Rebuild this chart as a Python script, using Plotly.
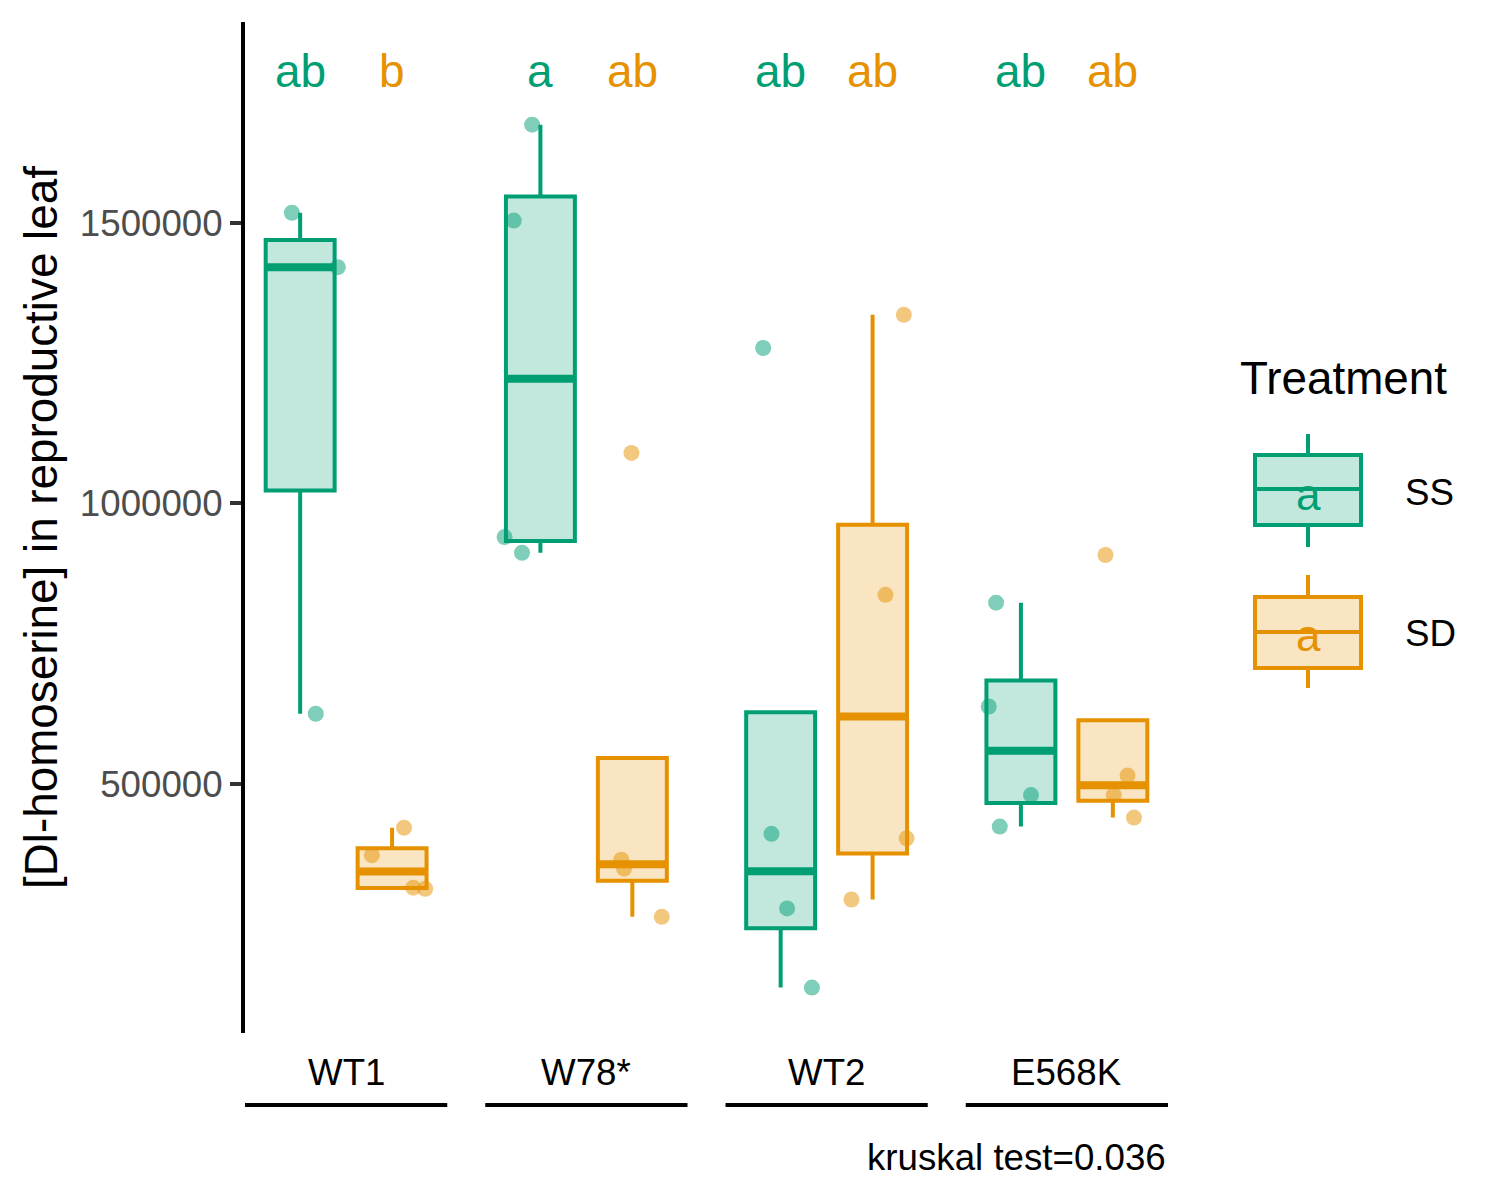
import numpy as np
import plotly.graph_objects as go
from plotly.subplots import make_subplots

# ---------------- data ----------------
genotypes = ["WT1", "W78*", "WT2", "E568K"]
treatments = ["SS", "SD"]

wt1_ss = [1518000, 1421000, 625000]
wt1_sd = [422000, 373000, 315000, 313000]
w78_ss = [1675000, 1504000, 940000, 912000]
w78_sd = [1090000, 365000, 349000, 263000]
wt2_ss = [1277000, 411000, 278000, 137000]
wt2_sd = [1336000, 837000, 403000, 294000]
e568k_ss = [823000, 638000, 480000, 424000]
e568k_sd = [908000, 515000, 480000, 440000]

letters_ss = ["ab", "a", "ab", "ab"]
letters_sd = ["b", "ab", "ab", "ab"]

kruskal_label = "kruskal test=0.036"
y_title = "[Dl-homoserine] in reproductive leaf"
y_ticks = [500000, 1000000, 1500000]

# jitter offsets (x, in category units) as seen in the picture
jit_wt1_ss = [-0.09, 0.41, 0.17]
jit_wt1_sd = [0.13, -0.22, 0.23, 0.36]
jit_w78_ss = [-0.09, -0.29, -0.39, -0.20]
jit_w78_sd = [-0.01, -0.12, -0.09, 0.32]
jit_wt2_ss = [-0.19, -0.10, 0.07, 0.34]
jit_wt2_sd = [0.34, 0.14, 0.37, -0.23]
jit_e568k_ss = [-0.27, -0.35, 0.11, -0.23]
jit_e568k_sd = [-0.08, 0.16, 0.01, 0.23]

ss_sets = [wt1_ss, w78_ss, wt2_ss, e568k_ss]
sd_sets = [wt1_sd, w78_sd, wt2_sd, e568k_sd]
ss_jit = [jit_wt1_ss, jit_w78_ss, jit_wt2_ss, jit_e568k_ss]
sd_jit = [jit_wt1_sd, jit_w78_sd, jit_wt2_sd, jit_e568k_sd]

# ---------------- style ----------------
GREEN = "#009E73"
ORANGE = "#E69100"
FILL = {GREEN: "rgba(0,158,115,0.24)", ORANGE: "rgba(230,145,0,0.24)"}
PT = {GREEN: "rgba(0,158,115,0.5)", ORANGE: "rgba(230,145,0,0.5)"}
FONT = "Liberation Sans, Arial, sans-serif"
OFF = 8  # page body margin
W, H = 1500 - OFF, 1200 - OFF
L, T = 245 - OFF, 22 - OFF
R = W - (1168 - OFF)
B = H - (1033 - OFF)
PW = W - L - R
PH = H - T - B
YRANGE = [56000, 1858000]
LETTER_Y = 1770000
BOXW = 0.75
LW = 4
MLW = 8


def px_x(x):
    return (x - OFF - L) / PW


def px_y(y):
    return (H - B - (y - OFF)) / PH


def box_stats(v):
    v = np.sort(np.array(v, dtype=float))
    q1, med, q3 = np.percentile(v, [25, 50, 75])
    iqr = q3 - q1
    upper = v[v <= q3 + 1.5 * iqr].max()
    lower = v[v >= q1 - 1.5 * iqr].min()
    return q1, med, q3, min(lower, q1), max(upper, q3)


fig = make_subplots(rows=1, cols=4, shared_yaxes=True,
                    horizontal_spacing=38 / PW)

for i, g in enumerate(genotypes):
    col = i + 1
    for pos, (vals, jit, color, lab) in enumerate(
            [(ss_sets[i], ss_jit[i], GREEN, letters_ss[i]),
             (sd_sets[i], sd_jit[i], ORANGE, letters_sd[i])], start=1):
        q1, med, q3, lo, hi = box_stats(vals)
        fig.add_trace(go.Box(
            x=[pos], q1=[q1], median=[med], q3=[q3],
            lowerfence=[lo], upperfence=[hi],
            width=BOXW, whiskerwidth=0,
            line=dict(color=color, width=LW),
            fillcolor=FILL[color], boxpoints=False,
            showlegend=False, hoverinfo="skip"), row=1, col=col)
        # thick median
        fig.add_trace(go.Scatter(
            x=[pos - BOXW / 2, pos + BOXW / 2], y=[med, med], mode="lines",
            line=dict(color=color, width=MLW), showlegend=False,
            hoverinfo="skip"), row=1, col=col)
        # jittered points
        fig.add_trace(go.Scatter(
            x=[pos + j for j in jit], y=vals, mode="markers",
            marker=dict(color=PT[color], size=16, line=dict(width=0)),
            showlegend=False, hoverinfo="skip"), row=1, col=col)
        fig.add_annotation(x=pos, y=LETTER_Y, text=lab, showarrow=False,
                           font=dict(family=FONT, size=46, color=color),
                           xref=f"x{'' if col == 1 else col}",
                           yref="y", xanchor="center", yanchor="middle")
    xr = f"x{'' if col == 1 else col} domain"
    fig.add_annotation(x=0.5, y=px_y(1072), xref=xr, yref="paper",
                       text=g, showarrow=False, xanchor="center",
                       yanchor="middle",
                       font=dict(family=FONT, size=36.7, color="black"))
    fig.add_shape(type="line", xref=xr, yref="paper", x0=0, x1=1,
                  y0=px_y(1105), y1=px_y(1105),
                  line=dict(color="black", width=4))

for col in range(1, 5):
    fig.update_xaxes(range=[0.4, 2.6], showline=False, showticklabels=False,
                     ticks="", showgrid=False, zeroline=False, row=1, col=col)
    fig.update_yaxes(range=YRANGE, showgrid=False, zeroline=False,
                     row=1, col=col)

fig.update_yaxes(showline=True, linecolor="black", linewidth=4,
                 ticks="outside", ticklen=11, tickwidth=4, tickcolor="#333333",
                 tickvals=y_ticks, tickformat="d",
                 tickfont=dict(family=FONT, size=36.7, color="#4D4D4D"),
                 title=dict(text=y_title, standoff=9,
                            font=dict(family=FONT, size=45.8, color="black")),
                 row=1, col=1)

# kruskal caption
fig.add_annotation(x=1, y=px_y(1157), xref="paper", yref="paper",
                   text=kruskal_label, showarrow=False, xanchor="right",
                   yanchor="middle",
                   font=dict(family=FONT, size=36.7, color="black"))

# ---------------- custom legend ----------------
fig.add_annotation(x=px_x(1238), y=px_y(378), xref="paper", yref="paper",
                   text="Treatment", showarrow=False, xanchor="left",
                   yanchor="middle",
                   font=dict(family=FONT, size=45.8, color="black"))
legend_keys = [(treatments[0], GREEN, 434, 455, 489, 525, 547, 492),
               (treatments[1], ORANGE, 575, 597, 632, 668, 688, 633)]
for name, color, wt, bt, md, bb, wb, ty in legend_keys:
    x0, x1, xc = px_x(1255), px_x(1361), px_x(1308)
    fig.add_shape(type="rect", xref="paper", yref="paper", x0=x0, x1=x1,
                  y0=px_y(bb), y1=px_y(bt), fillcolor=FILL[color],
                  line=dict(color=color, width=LW))
    for ya, yb in [(wt, bt), (bb, wb)]:
        fig.add_shape(type="line", xref="paper", yref="paper", x0=xc, x1=xc,
                      y0=px_y(yb), y1=px_y(ya),
                      line=dict(color=color, width=LW))
    fig.add_shape(type="line", xref="paper", yref="paper", x0=x0, x1=x1,
                  y0=px_y(md), y1=px_y(md), line=dict(color=color, width=LW))
    fig.add_annotation(x=xc, y=px_y(ty + 2), xref="paper", yref="paper",
                       text="a", showarrow=False, xanchor="center",
                       yanchor="middle",
                       font=dict(family=FONT, size=44, color=color))
    fig.add_annotation(x=px_x(1403), y=px_y(ty), xref="paper", yref="paper",
                       text=name, showarrow=False, xanchor="left",
                       yanchor="middle",
                       font=dict(family=FONT, size=36.7, color="black"))

fig.update_layout(width=W, height=H, plot_bgcolor="white",
                  paper_bgcolor="white", showlegend=False,
                  margin=dict(l=L, r=R, t=T, b=B),
                  font=dict(family=FONT))

fig.write_html("out.html")
